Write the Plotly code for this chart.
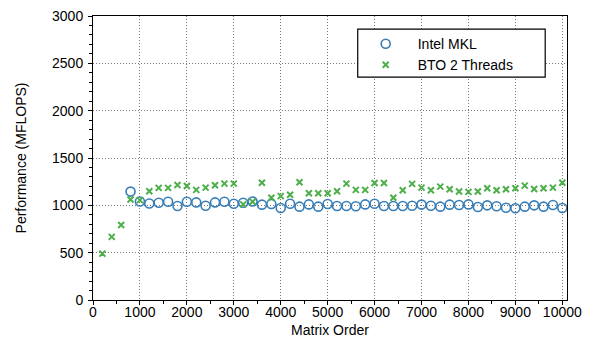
import plotly.graph_objects as go

# ---- data ----
mkl_x = list(range(800, 10001, 200))
mkl_y = [1145, 1040, 1020, 1027, 1038, 993, 1038, 1031, 996, 1031,
         1038, 1017, 1027, 1041, 1007, 1014, 972, 1017, 986, 1010,
         986, 1014, 993, 993, 990, 1010, 1017, 993, 993, 993,
         995, 1008, 996, 986, 1007, 1003, 1010, 983, 1000, 990,
         975, 969, 986, 1000, 986, 1003, 972]

bto_x = list(range(200, 10001, 200))
bto_y = [490, 667, 792, 1062, 1055, 1149, 1184, 1184, 1215, 1205,
         1163, 1187, 1212, 1229, 1229, 1010, 1038, 1239, 1080, 1097,
         1111, 1243, 1128, 1128, 1128, 1149, 1229, 1163, 1163, 1236,
         1236, 1080, 1160, 1227, 1187, 1160, 1198, 1170, 1146, 1142,
         1146, 1180, 1160, 1170, 1180, 1208, 1173, 1180, 1187, 1239]

x_ticks = [0, 1000, 2000, 3000, 4000, 5000, 6000, 7000, 8000, 9000, 10000]
y_ticks = [0, 500, 1000, 1500, 2000, 2500, 3000]

BLUE = "#377EB8"
GREEN = "#4DAF4A"
FONT = "Liberation Sans, Arial, Helvetica, sans-serif"

fig = go.Figure()
fig.add_trace(go.Scatter(
    x=mkl_x, y=mkl_y, mode="markers", name="Intel MKL", legend="legend",
    marker=dict(symbol="circle-open", size=9, color=BLUE,
                line=dict(color=BLUE, width=1.6)),
))
fig.add_trace(go.Scatter(
    x=bto_x, y=bto_y, mode="markers", name="BTO 2 Threads", legend="legend2",
    marker=dict(symbol="x-thin", size=6, color=GREEN,
                line=dict(color=GREEN, width=2)),
))

# legend box
fig.add_shape(type="rect", xref="paper", yref="paper",
              x0=0.5585, x1=0.954, y0=0.785, y1=0.954,
              line=dict(color="black", width=1.2), fillcolor="white", layer="above")

leg_common = dict(x=0.550, xanchor="left", yanchor="middle",
                  bgcolor="rgba(0,0,0,0)", borderwidth=0,
                  font=dict(family=FONT, size=14, color="black"),
                  itemwidth=54)
fig.update_layout(
    width=591, height=347,
    margin=dict(l=92.7, r=23.5, t=16, b=47, autoexpand=False),
    paper_bgcolor="white", plot_bgcolor="white",
    font=dict(family=FONT, size=14, color="black"),
    showlegend=True,
    legend=dict(y=0.901, **leg_common),
    legend2=dict(y=0.827, **leg_common),
)
grid = dict(showgrid=True, gridcolor="#777777", griddash="1px,2px", gridwidth=1)
fig.update_xaxes(
    range=[0, 10100], tickvals=x_ticks, ticktext=[str(v) for v in x_ticks],
    showline=True, linecolor="black", linewidth=1, mirror=True,
    ticks="outside", ticklen=4, tickcolor="black", tickwidth=1,
    minor=dict(dtick=500, ticks="outside", ticklen=3, tickcolor="black", showgrid=False),
    zeroline=False, ticklabelstandoff=-5, automargin=False,
    title=dict(text="Matrix Order", standoff=6, font=dict(size=14)),
    tickfont=dict(size=14),
    **grid,
)
fig.update_yaxes(
    range=[0, 3000], tickvals=y_ticks, ticktext=[str(v) for v in y_ticks],
    showline=True, linecolor="black", linewidth=1, mirror=True,
    ticks="outside", ticklen=4, tickcolor="black", tickwidth=1,
    minor=dict(dtick=100, ticks="outside", ticklen=3, tickcolor="black", showgrid=False),
    zeroline=False, ticklabelstandoff=2, automargin=False,
    title=dict(text="Performance (MFLOPS)", standoff=22, font=dict(size=14)),
    tickfont=dict(size=14),
    **grid,
)

fig.write_html("out.html")
